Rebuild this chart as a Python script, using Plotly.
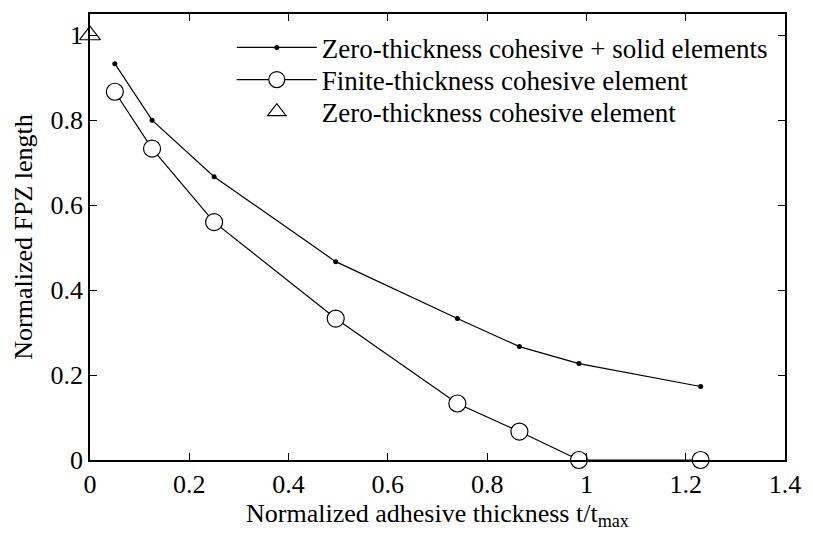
import plotly.graph_objects as go

x_vals = [0.05, 0.125, 0.25, 0.495, 0.74, 0.865, 0.985, 1.23]
y_solid = [0.933, 0.80, 0.667, 0.467, 0.333, 0.267, 0.227, 0.173]
y_finite = [0.867, 0.733, 0.56, 0.333, 0.133, 0.067, 0.0, 0.0]
x_zero = [0.0]
y_zero = [1.0]

names = ["Zero-thickness cohesive + solid elements",
         "Finite-thickness cohesive element",
         "Zero-thickness cohesive element"]

font = "Times New Roman, Liberation Serif, serif"
fig = go.Figure()
fig.add_trace(go.Scatter(x=x_vals, y=y_solid, mode="lines+markers", name=names[0],
                         line=dict(color="black", width=1.2),
                         marker=dict(symbol="circle", size=5, color="black"),
                         cliponaxis=False, legend="legend"))
fig.add_trace(go.Scatter(x=x_vals, y=y_finite, mode="lines+markers", name=names[1],
                         line=dict(color="black", width=1.2),
                         marker=dict(symbol="circle", size=17, color="white",
                                     line=dict(color="black", width=1.2)),
                         cliponaxis=False, legend="legend2"))
fig.add_trace(go.Scatter(x=x_zero, y=y_zero, mode="markers", name=names[2],
                         marker=dict(symbol="triangle-up", size=18, color="white",
                                     line=dict(color="black", width=1.2)),
                         cliponaxis=False, legend="legend3"))

axis_common = dict(showline=True, linecolor="black", linewidth=1.5, mirror="ticks",
                   ticks="inside", ticklen=7, tickcolor="black", tickwidth=1,
                   showgrid=False, zeroline=False,
                   tickfont=dict(family=font, size=26, color="black"))

def leg(y):
    return dict(x=0.204, y=y, xanchor="left", yanchor="middle",
                bgcolor="rgba(0,0,0,0)", borderwidth=0,
                font=dict(family=font, size=27, color="black"),
                itemwidth=80)

fig.update_layout(
    width=813, height=538,
    margin=dict(l=90, r=18, t=14, b=78),
    paper_bgcolor="white", plot_bgcolor="white",
    font=dict(family=font, size=26, color="black"),
    showlegend=True,
    legend=leg(0.924),
    legend2=leg(0.852),
    legend3=leg(0.780),
    xaxis=dict(range=[0, 1.4], dtick=0.2, tickformat="~g",
               title=dict(text="Normalized adhesive thickness t/t<sub>max</sub>",
                          font=dict(family=font, size=26), standoff=2),
               **axis_common),
    yaxis=dict(range=[0, 1.05], dtick=0.2, tickformat="~g",
               title=dict(text="Normalized FPZ length", font=dict(family=font, size=26), standoff=10),
               **axis_common),
)

fig.write_html("out.html")
